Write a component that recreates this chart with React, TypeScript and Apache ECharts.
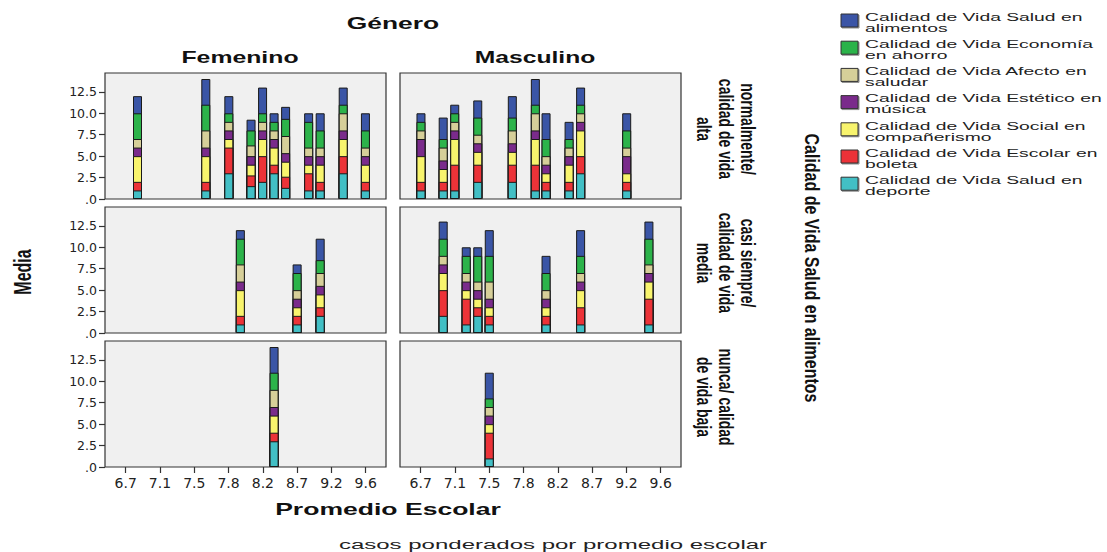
import React, { useEffect, useRef } from "react";
import * as echarts from "echarts";

// Series (stack order bottom -> top)
const seriesNames = [
  "Calidad de Vida Salud en deporte",
  "Calidad de Vida Escolar en boleta",
  "Calidad de Vida Social en compañerismo",
  "Calidad de Vida Estético en música",
  "Calidad de Vida Afecto en saludar",
  "Calidad de Vida Economía en ahorro",
  "Calidad de Vida Salud en alimentos",
];
const legendLabels = [
  "Calidad de Vida Salud en\ndeporte",
  "Calidad de Vida Escolar en\nboleta",
  "Calidad de Vida Social en\ncompañerismo",
  "Calidad de Vida Estético en\nmúsica",
  "Calidad de Vida Afecto en\nsaludar",
  "Calidad de Vida Economía\nen ahorro",
  "Calidad de Vida Salud en\nalimentos",
];
const seriesColors = ["#42bfc5", "#ec3338", "#f8f46d", "#7a2b8b", "#d6cf99", "#2cb34a", "#3a55a6"];

const genderLabels = ["Femenino", "Masculino"];
const rowLabels = [
  ["normalmente/", "calidad de vida", "alta"],
  ["casi siempre/", "calidad de vida", "media"],
  ["nunca/ calidad", "de vida baja"],
];

const xTickValues = [6.6667, 7.0833, 7.5, 7.9167, 8.3333, 8.75, 9.1667, 9.5833];
const xTickLabels = ["6.7", "7.1", "7.5", "7.8", "8.2", "8.7", "9.2", "9.6"];
const yTickValues = [0, 2.5, 5, 7.5, 10, 12.5];
const yTickLabels = [".0", "2.5", "5.0", "7.5", "10.0", "12.5"];

// Each row: [promedio, deporte, escolar, social, estético, afecto, economía, alimentos]
const femAlta = [
  [6.81, 1, 1, 3, 1, 1, 3, 2],
  [7.64, 1, 1, 3, 1, 2, 3, 3],
  [7.92, 3, 3, 1, 1, 1, 1, 2],
  [8.19, 1.5, 1.25, 1.25, 1, 1.25, 1.75, 1.25],
  [8.33, 2, 3, 2, 1, 1, 1, 3],
  [8.47, 3, 1, 2, 1, 1, 1, 1],
  [8.61, 1.3, 1.3, 1.75, 1, 2, 2, 1.4],
  [8.89, 1, 2, 1, 1, 1, 3, 1],
  [9.03, 1, 1, 2, 1, 1, 2, 2],
  [9.31, 3, 2, 2, 1, 2, 1, 2],
  [9.58, 1, 1, 2, 1, 1, 2, 2],
];
const masAlta = [
  [6.67, 1, 1, 3, 2, 1, 1, 1],
  [6.94, 1, 1, 1.5, 1, 1.5, 1, 2.5],
  [7.08, 1, 3, 3, 1, 1, 1, 1],
  [7.36, 2, 2, 1.5, 1, 1, 2, 2],
  [7.78, 2, 2, 1.5, 1, 1.5, 1.5, 2.5],
  [8.06, 1, 3, 3, 1, 2, 1, 3],
  [8.19, 1, 1, 1, 1, 1, 2, 3],
  [8.47, 1, 1, 2, 1, 1, 1, 2],
  [8.61, 3, 2, 3, 1, 1, 1, 2],
  [9.17, 1, 1, 1, 2, 1, 2, 2],
];
const femMedia = [
  [8.06, 1, 1, 3, 1, 2, 3, 1],
  [8.75, 1, 1, 1, 1, 1, 2, 1],
  [9.03, 2, 1, 1.5, 1, 1.5, 1.5, 2.5],
];
const masMedia = [
  [6.94, 2, 3, 2, 1, 1, 2, 2],
  [7.22, 1, 3, 1, 1, 1, 2, 1],
  [7.36, 2, 1, 1, 1, 1, 3, 1],
  [7.5, 1, 1, 1, 1, 2, 3, 3],
  [8.19, 1, 1, 1, 1, 1, 2, 2],
  [8.61, 1, 2, 2, 1, 1, 2, 3],
  [9.44, 1, 3, 2, 1, 1, 3, 2],
];
const femBaja = [[8.47, 3, 1, 2, 1, 2, 2, 3]];
const masBaja = [[7.5, 1, 3, 1, 1, 1, 1, 3]];

const panelRows = [
  [femAlta, masAlta],
  [femMedia, masMedia],
  [femBaja, masBaja],
];

const X_MIN = 6.415;
const X_MAX = 9.83;
const Y_MAX = 14.7;
const COL_LEFTS = [105, 400];
const ROW_TOPS = [73, 207, 341];
const PANEL_W = 281;
const PANEL_H = 126;

function lookup(values: number[], labels: string[], v: number) {
  let best = 0;
  for (let i = 0; i < values.length; i++) {
    if (Math.abs(values[i] - v) < Math.abs(values[best] - v)) best = i;
  }
  return labels[best];
}

function buildOption() {
  const grids: any[] = [];
  const xAxes: any[] = [];
  const yAxes: any[] = [];
  const series: any[] = [];

  panelRows.forEach((row, r) =>
    row.forEach((bars, c) => {
      const p = r * 2 + c;
      const bottom = r === 2;
      const leftCol = c === 0;
      grids.push({
        left: COL_LEFTS[c],
        top: ROW_TOPS[r],
        width: PANEL_W,
        height: PANEL_H,
        show: true,
        backgroundColor: "#f0f0f0",
        borderColor: "#333333",
        borderWidth: 1.2,
      });
      xAxes.push({
        type: "value",
        gridIndex: p,
        min: X_MIN,
        max: X_MAX,
        axisLine: { show: false },
        splitLine: { show: false },
        axisTick: {
          show: bottom,
          customValues: xTickValues,
          length: 6,
          lineStyle: { color: "#333", width: 1.2 },
        },
        axisLabel: {
          show: bottom,
          customValues: xTickValues,
          formatter: (v: number) => lookup(xTickValues, xTickLabels, v),
          margin: 9,
          fontFamily: "DejaVu Sans",
          fontSize: 14,
          color: "#222",
        },
      });
      yAxes.push({
        type: "value",
        gridIndex: p,
        min: 0,
        max: Y_MAX,
        axisLine: { show: false },
        splitLine: { show: false },
        axisTick: {
          show: leftCol,
          customValues: yTickValues,
          length: 6,
          lineStyle: { color: "#333", width: 1.2 },
        },
        axisLabel: {
          show: leftCol,
          customValues: yTickValues,
          formatter: (v: number) => lookup(yTickValues, yTickLabels, v),
          margin: 8,
          fontFamily: "DejaVu Sans",
          fontSize: 12.5,
          color: "#222",
        },
      });
      for (let j = 6; j >= 0; j--) {
        series.push({
          type: "bar",
          name: seriesNames[j],
          xAxisIndex: p,
          yAxisIndex: p,
          barWidth: 9,
          barGap: "-100%",
          silent: true,
          emphasis: { disabled: true },
          itemStyle: { color: seriesColors[j], borderColor: "#1a1a1a", borderWidth: 1 },
          data: bars.map((b) => {
            let s = 0;
            for (let k = 1; k <= j + 1; k++) s += b[k];
            return [b[0], s];
          }),
        });
      }
    })
  );

  const graphic: any[] = [];
  const txt = (text: string, x: number, y: number, o: any = {}) => ({
    type: "text",
    x,
    y,
    rotation: o.rotation || 0,
    scaleX: o.scaleX || 1,
    scaleY: o.scaleY || 1,
    silent: true,
    style: {
      text,
      fill: o.fill || "#111",
      fontFamily: o.fontFamily || "Liberation Sans",
      fontSize: o.fontSize || 12,
      fontWeight: o.fontWeight || "normal",
      lineHeight: o.lineHeight,
      align: o.align || "center",
      verticalAlign: "middle",
    },
  });

  graphic.push(txt("Género", 393, 24, { fontSize: 16, fontWeight: "bold", scaleX: 1.65 }));
  graphic.push(txt(genderLabels[0], 240, 57, { fontSize: 16, fontWeight: "bold", scaleX: 1.55 }));
  graphic.push(txt(genderLabels[1], 535, 57, { fontSize: 16, fontWeight: "bold", scaleX: 1.54 }));
  graphic.push(txt("Promedio Escolar", 388, 510, { fontSize: 16, fontWeight: "bold", scaleX: 1.66 }));
  graphic.push(txt("casos ponderados por promedio escolar", 553, 545, { fontSize: 12, scaleX: 2.0, fill: "#222" }));
  graphic.push(txt("Media", 23, 272, { fontSize: 16, fontWeight: "bold", rotation: Math.PI / 2, scaleY: 1.5 }));
  graphic.push(
    txt("Calidad de Vida Salud en alimentos", 812, 268, {
      fontSize: 16,
      fontWeight: "bold",
      rotation: -Math.PI / 2,
      scaleY: 1.3,
    })
  );

  const lineXs = [747, 725, 703];
  rowLabels.forEach((lines, r) => {
    const cy = ROW_TOPS[r] + PANEL_H / 2 - 7;
    const offset = 3 - lines.length;
    lines.forEach((ln, i) => {
      graphic.push(
        txt(ln, lineXs[i + offset], cy, {
          fontSize: 14,
          fontWeight: "bold",
          rotation: -Math.PI / 2,
          scaleY: 1.4,
        })
      );
    });
  });

  // legend (top -> bottom: reverse of stack order)
  for (let i = 0; i < 7; i++) {
    const j = 6 - i;
    const cy = 20.5 + 27.2 * i;
    graphic.push({
      type: "rect",
      silent: true,
      shape: { x: 841, y: cy - 6.5, width: 17, height: 13 },
      style: {
        fill: seriesColors[j],
        stroke: "#333",
        lineWidth: 1,
        shadowBlur: 1,
        shadowOffsetX: 1,
        shadowOffsetY: 1,
        shadowColor: "rgba(0,0,0,0.45)",
      },
    });
    graphic.push(
      txt(legendLabels[j], 865, cy + 1.8, {
        fontSize: 11.5,
        lineHeight: 11,
        align: "left",
        scaleX: 1.68,
        fill: "#222",
      })
    );
  }

  return {
    animation: false,
    backgroundColor: "#ffffff",
    grid: grids,
    xAxis: xAxes,
    yAxis: yAxes,
    series,
    graphic,
  };
}

export default function App() {
  const ref = useRef<HTMLDivElement>(null);
  useEffect(() => {
    if (!ref.current) return;
    const chart = echarts.init(ref.current, undefined, { renderer: "svg" });
    chart.setOption(buildOption() as any);
    return () => chart.dispose();
  }, []);
  return (
    <div
      ref={ref}
      style={{ position: "fixed", left: 0, top: 0, width: 1107, height: 552, background: "#fff" }}
    />
  );
}
